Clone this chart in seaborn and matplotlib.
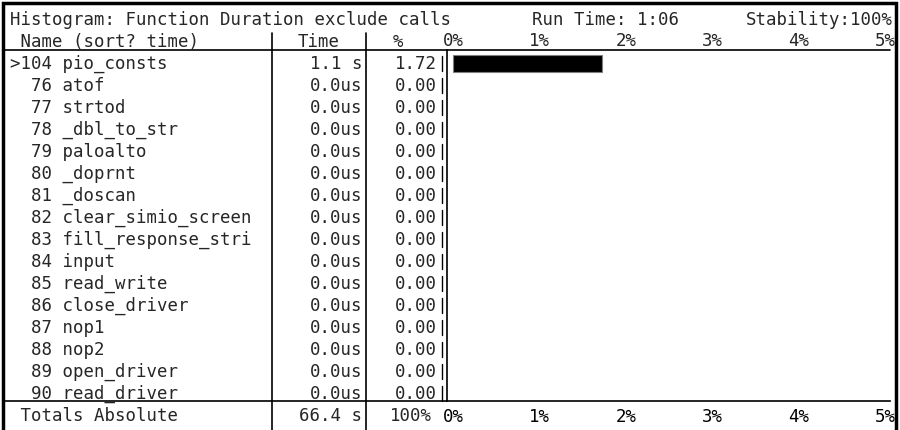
import matplotlib
matplotlib.use("Agg")
import matplotlib.pyplot as plt
import matplotlib.transforms as mtransforms
import pandas as pd
import seaborn as sns

# table rows
ids = [104, 76, 77, 78, 79, 80, 81, 82, 83, 84, 85, 86, 87, 88, 89, 90]
names = ["pio_consts", "atof", "strtod", "_dbl_to_str", "paloalto", "_doprnt",
         "_doscan", "clear_simio_screen", "fill_response_stri", "input",
         "read_write", "close_driver", "nop1", "nop2", "open_driver", "read_driver"]
times = ["1.1 s", "0.0us", "0.0us", "0.0us", "0.0us", "0.0us", "0.0us", "0.0us",
         "0.0us", "0.0us", "0.0us", "0.0us", "0.0us", "0.0us", "0.0us", "0.0us"]
pcts = [1.72, 0.00, 0.00, 0.00, 0.00, 0.00, 0.00, 0.00,
        0.00, 0.00, 0.00, 0.00, 0.00, 0.00, 0.00, 0.00]
tick_pos = [0, 1, 2, 3, 4, 5]
tick_labels = ["0%", "1%", "2%", "3%", "4%", "5%"]

title = "Histogram: Function Duration exclude calls"
run_time = "Run Time: 1:06"
stability = "Stability:100%"
header_name = " Name (sort? time)"
total_label = " Totals Absolute"
total_time = "66.4 s"
total_pct = "100%"

sns.set_style("white")
plt.rcParams["font.family"] = ["DejaVu Sans Mono"]
plt.rcParams["font.size"] = 12.55

W, H = 900, 430
fig = plt.figure(figsize=(W / 100, H / 100), dpi=100)

# histogram area: 447..890 px across, 50..401 px down
ax = fig.add_axes([447 / W, (H - 401) / H, 443 / W, 351 / H])
df = pd.DataFrame({"name": names, "pct": pcts})
sns.barplot(data=df, x="pct", y="name", orient="h", color="black",
            width=0.77, edgecolor="#808080", linewidth=0.8, ax=ax)
for bar in ax.patches:
    if bar.get_width() == 0:
        bar.set_visible(False)
ax.set_xlim(-0.07, 5.06)
ax.set_ylim(15.34, -0.614)
ax.set_yticks([])
ax.set_xlabel("")
ax.set_ylabel("")
for s in ["top", "right"]:
    ax.spines[s].set_visible(False)
for s in ["left", "bottom"]:
    ax.spines[s].set_color("black")
    ax.spines[s].set_linewidth(1.2)
ax.set_xticks(tick_pos)
ax.set_xticklabels(tick_labels)
ax.tick_params(axis="x", length=0, pad=5, labelsize=12.55, colors="black")
top = ax.secondary_xaxis("top")
top.set_xticks(tick_pos)
top.set_xticklabels(tick_labels)
top.tick_params(length=0, pad=0, labelsize=12.55)
top.spines["top"].set_visible(False)

# x in figure pixels, y in row units of the bar axes
tr = mtransforms.blended_transform_factory(fig.transFigure, ax.transData)
def fx(px):
    return px / W

x0 = 10
for i, (n, nm, t, p) in enumerate(zip(ids, names, times, pcts)):
    mark = ">" if i == 0 else " "
    ax.text(fx(x0), i, f"{mark}{n:>3} {nm}", transform=tr, va="center", clip_on=False)
    ax.text(fx(362), i, t, transform=tr, ha="right", va="center", clip_on=False)
    ax.text(fx(437), i, f"{p:.2f}", transform=tr, ha="right", va="center", clip_on=False)
    ax.plot([fx(442), fx(442)], [i - 0.36, i + 0.36], transform=tr,
            color="black", lw=1, clip_on=False)

# header and title rows
ax.text(fx(x0), -1, header_name, transform=tr, va="center", clip_on=False)
ax.text(fx(319), -1, "Time", transform=tr, ha="center", va="center", clip_on=False)
ax.text(fx(398), -1, "%", transform=tr, ha="center", va="center", clip_on=False)
ax.text(fx(x0), -2, title, transform=tr, va="center", clip_on=False)
ax.text(fx(532), -2, run_time, transform=tr, va="center", clip_on=False)
ax.text(fx(893), -2, stability, transform=tr, ha="right", va="center", clip_on=False)

# totals row
ax.text(fx(x0), 16, total_label, transform=tr, va="center", clip_on=False)
ax.text(fx(362), 16, total_time, transform=tr, ha="right", va="center", clip_on=False)
ax.text(fx(432), 16, total_pct, transform=tr, ha="right", va="center", clip_on=False)

# rules
ax.plot([fx(4), fx(890)], [-0.614, -0.614], transform=tr, color="black", lw=1.2, clip_on=False)
ax.plot([fx(4), fx(447)], [15.34, 15.34], transform=tr, color="black", lw=1.2, clip_on=False)
for xs in [272, 366]:
    ax.plot([fx(xs), fx(xs)], [-1.4, 17.5], transform=tr, color="black", lw=1.2, clip_on=False)

# screen frame
fig.add_artist(plt.Rectangle((3 / W, -0.2), 893 / W, 1.2 - 3 / H,
                             transform=fig.transFigure, fill=False,
                             edgecolor="black", lw=2.5))

fig.savefig("out.png", dpi=100)
